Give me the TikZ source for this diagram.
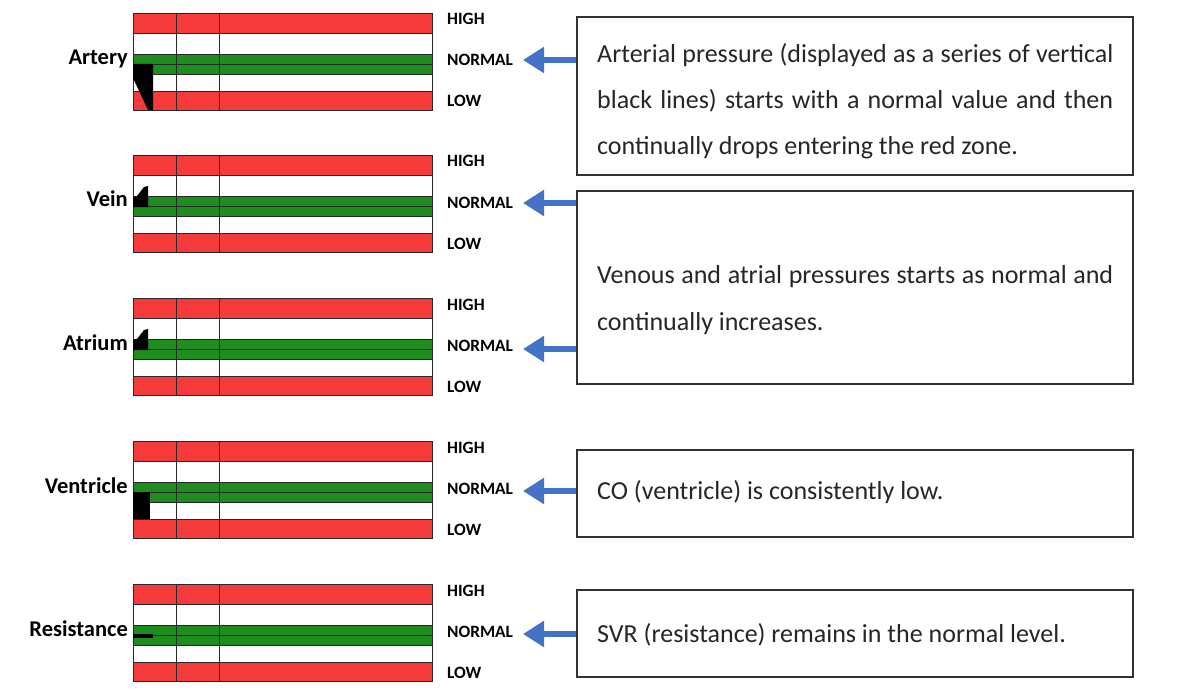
\documentclass[tikz,border=0pt]{standalone}
\usepackage{fontspec}
\setmainfont{Carlito}
\usetikzlibrary{arrows.meta}
\definecolor{zred}{RGB}{244,58,58}
\definecolor{zgreen}{RGB}{30,140,30}
\definecolor{arrblue}{RGB}{68,114,196}
\definecolor{txtgray}{RGB}{38,38,38}
\definecolor{boxgray}{RGB}{50,50,50}
\definecolor{gridgray}{RGB}{40,40,40}
\newcommand{\pchart}[1]{%
  \fill[zred] (133,#1) rectangle (432,#1+20);
  \fill[zred] (133,#1+78) rectangle (432,#1+97);
  \fill[zgreen] (133,#1+41) rectangle (432,#1+61);
  \foreach \yy in {20,41,51,61,78} {\draw[gridline] (133,#1+\yy) -- (432,#1+\yy);}
  \draw[gridline] (176,#1) -- (176,#1+97);
  \draw[gridline] (219,#1) -- (219,#1+97);
  \draw[gridline] (133,#1) rectangle (432,#1+97);
}
\tikzset{
  gridline/.style={draw=gridgray, line width=0.95pt},
  lvl/.style={font=\fontsize{17.3}{19}\selectfont\bfseries, text=black, anchor=base west, inner sep=0},
  rowlbl/.style={font=\fontsize{22.5}{25}\selectfont\bfseries, text=black, anchor=base east, inner sep=0},
  box/.style={draw=boxgray, line width=1.3pt, fill=white, inner sep=0},
  para/.style={font=\fontsize{26}{30}\selectfont, text=txtgray, anchor=base west, inner sep=0},
  arr/.style={draw=arrblue, line width=6pt, -{Triangle[length=21pt,width=25pt]}},
  mark/.style={fill=black}
}
\begin{document}
\begin{tikzpicture}[x=1pt,y=-1pt]
\useasboundingbox (0,0) rectangle (1200,698);
\fill[white] (0,0) rectangle (1200,698);
% charts
\foreach \T/\n/\lab in {13/1/Artery,155/2/Vein,298/3/Atrium,441/4/Ventricle,584/5/Resistance}{
  \pchart{\T}
  \node[rowlbl] (row\n) at (128,\T+52) {\lab};
  \node[lvl] (hi\n) at (447,\T+12) {HIGH};
  \node[lvl] (nm\n) at (447,\T+53) {NORMAL};
  \node[lvl] (lo\n) at (447,\T+94) {LOW};
}
% black pressure marks
\fill[black] (133,64) -- (153,64) -- (153,110) -- (148,110) -- (133,78) -- cycle;
\fill[black] (133,207) -- (133,197) -- (137,196) -- (144,187) -- (148,186) -- (148,207) -- cycle;
\fill[black] (133,350) -- (133,340) -- (137,339) -- (144,330) -- (148,329) -- (148,350) -- cycle;
\fill[black] (133,492) rectangle (150,519);
\fill[black] (133,634) rectangle (153,638);
% boxes
\node[box, minimum width=556pt, minimum height=158pt] (box1) at (855,96) {};
\node[box, minimum width=556pt, minimum height=193pt] (box2) at (855,287.5) {};
\node[box, minimum width=556pt, minimum height=87pt] (box3) at (855,493.5) {};
\node[box, minimum width=556pt, minimum height=87pt] (box4) at (855,633.5) {};
% texts
\node[para] (t1a) at (597,63) {\makebox[516pt][s]{Arterial pressure (displayed as a series of vertical}};
\node[para] (t1b) at (597,109) {\makebox[516pt][s]{black lines) starts with a normal value and then}};
\node[para] (t1c) at (597,155) {continually drops entering the red zone.};
\node[para] (t2a) at (597,283) {\makebox[516pt][s]{Venous and atrial pressures starts as normal and}};
\node[para] (t2b) at (597,330) {continually increases.};
\node[para] (t3) at (597,499) {CO (ventricle) is consistently low.};
\node[para] (t4) at (597,642) {SVR (resistance) remains in the normal level.};
% arrows
\coordinate (a1) at (523,60);
\coordinate (a2) at (523,203);
\coordinate (a3) at (523,349);
\coordinate (a4) at (523,491);
\coordinate (a5) at (523,634);
\draw[arr] (box1.west |- a1) -- (a1);
\draw[arr] (box2.west |- a2) -- (a2);
\draw[arr] (box2.west |- a3) -- (a3);
\draw[arr] (box3.west |- a4) -- (a4);
\draw[arr] (box4.west |- a5) -- (a5);
\end{tikzpicture}
\end{document}
